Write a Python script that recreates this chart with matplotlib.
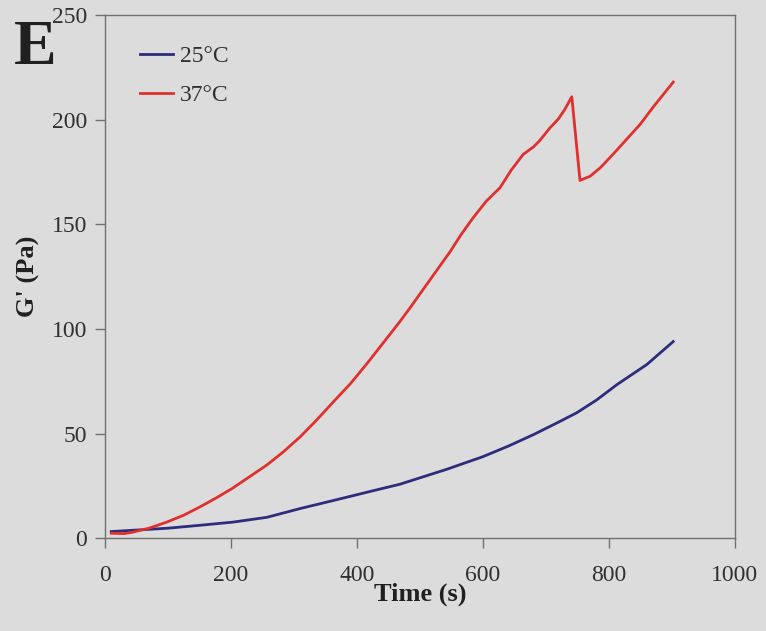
import matplotlib.pyplot as plt

# 25 C series (time s, G' Pa)
t_25 = [10, 44, 100, 151, 203, 257, 310, 362, 416, 468, 543, 600, 640, 680, 720, 749, 780, 813, 860, 902]
g_25 = [3.2, 3.8, 4.8, 6.2, 7.7, 10.0, 14.2, 18.0, 22.0, 25.8, 33.0, 39.0, 44.0, 49.5, 55.5, 60.0, 66.0, 73.5, 83.0, 94.0]

# 37 C series
t_37 = [10, 30, 44, 70, 98, 125, 151, 178, 203, 230, 257, 284, 310, 336, 362, 390, 416, 442, 468, 484,
        510, 548, 565, 584, 605, 627, 645, 664, 680, 690, 706, 720, 730, 741, 754, 770, 786, 808, 829, 850, 870, 902]
g_37 = [2.4, 2.2, 2.9, 4.8, 7.7, 11.0, 15.0, 19.5, 24.0, 29.5, 35.0, 41.5, 48.5, 56.5, 65.0, 74.0, 83.5, 93.5, 103.5, 110.0,
        121.0, 137.0, 145.0, 153.0, 161.0, 167.5, 176.0, 183.5, 187.0, 190.0, 196.0, 200.5, 205.0, 211.0, 171.0, 173.0, 177.0, 184.0, 191.0, 198.0, 206.0, 218.0]

x_ticks = [0, 200, 400, 600, 800, 1000]
y_ticks = [0, 50, 100, 150, 200, 250]

plt.rcParams['font.family'] = ['Liberation Serif', 'DejaVu Serif']

bg = '#dcdcdc'
fig = plt.figure(figsize=(7.66, 6.31), dpi=100, facecolor=bg)
ax = fig.add_axes([0.137, 0.147, 0.8225, 0.829], facecolor=bg)

ax.plot(t_25, g_25, color='#2e2c7c', lw=2, label='25°C')
ax.plot(t_37, g_37, color='#e0302e', lw=2, label='37°C')

ax.set_xlim(0, 1000)
ax.set_ylim(0, 250)
ax.set_xticks(x_ticks)
ax.set_yticks(y_ticks)
ax.tick_params(direction='out', length=7, width=1, color='#707070',
               labelsize=17, labelcolor='#303030', pad=12)
ax.tick_params(axis='y', pad=6)
for s in ax.spines.values():
    s.set_color('#707070')
    s.set_linewidth(1)

ax.set_xlabel('Time (s)', fontsize=19, fontweight='bold', color='#202020', labelpad=-2)
ax.set_ylabel("G' (Pa)", fontsize=19, fontweight='bold', color='#202020', labelpad=8)

ax.legend(loc='upper left', frameon=False, fontsize=17, handlelength=1.4,
          handletextpad=0.3, labelspacing=0.75, borderaxespad=0.0,
          bbox_to_anchor=(0.04, 0.96), labelcolor='#303030')

fig.text(0.018, 0.968, 'E', fontsize=46, fontweight='bold', va='top', color='#202020')

fig.savefig('out.png', dpi=100, facecolor=bg)
